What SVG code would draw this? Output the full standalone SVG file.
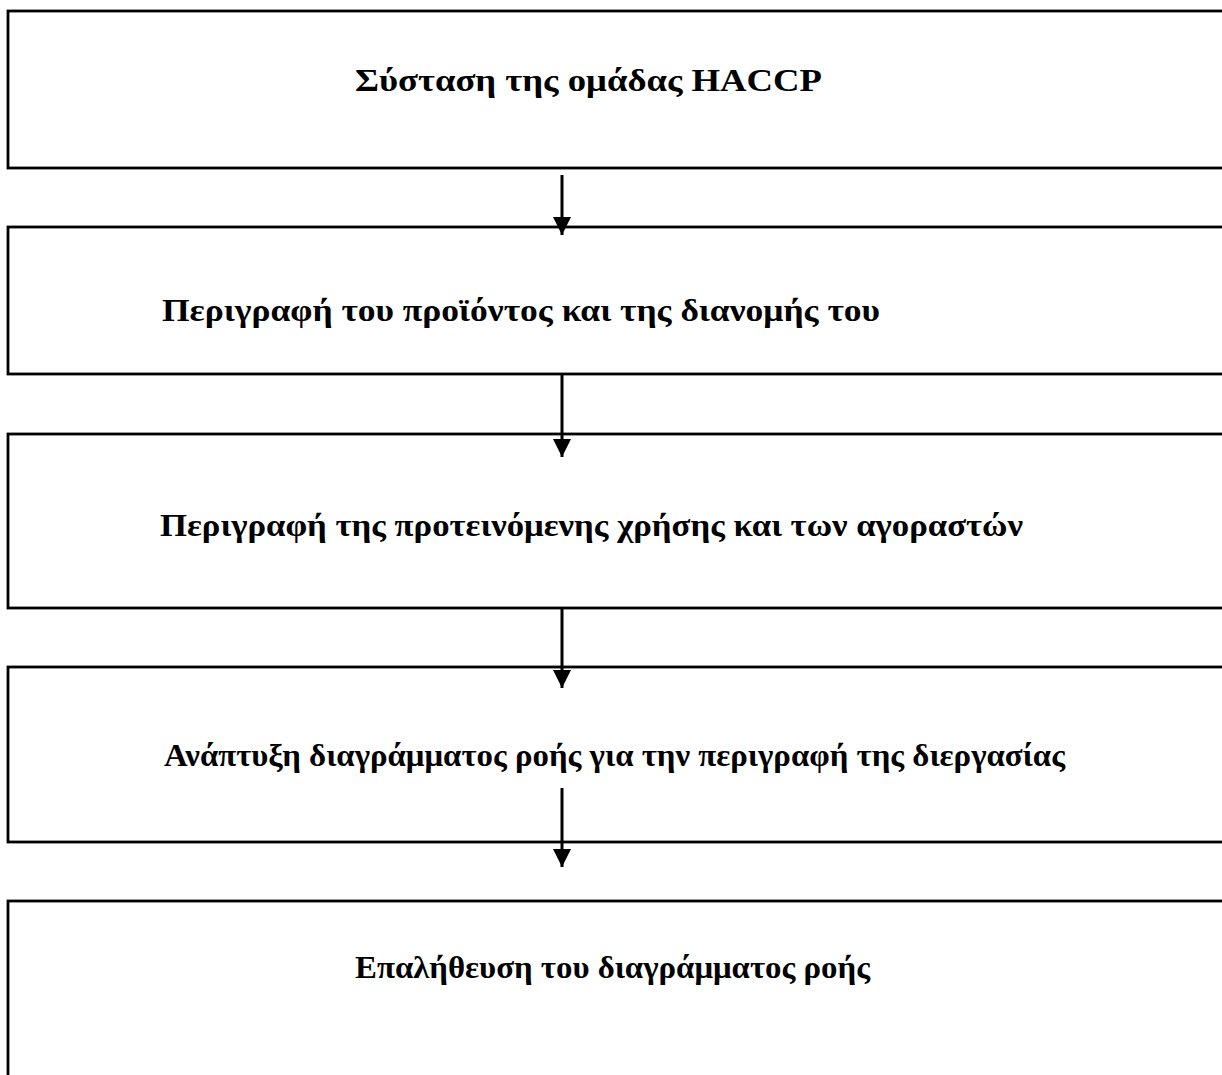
<svg xmlns="http://www.w3.org/2000/svg" width="1222" height="1075" viewBox="0 0 1222 1075">
<style>
.box{fill:#fff;stroke:#000;stroke-width:2.8}
.lbl{font-family:"Liberation Serif","Times New Roman",serif;font-weight:bold;font-size:32px;fill:#000}
.con{stroke:#000;stroke-width:3;fill:none}
</style>
<defs>
<marker id="ah" markerUnits="userSpaceOnUse" markerWidth="18" markerHeight="18" refX="18" refY="9" orient="auto" viewBox="0 0 18 18">
<path d="M0,0 L18,9 L0,18 z" fill="#000"/>
</marker>
</defs>
<rect width="1222" height="1075" fill="#fff"/>
<g id="n1"><rect class="box" x="8" y="11" width="1230" height="157"/>
<text class="lbl" x="355" y="91" textLength="467" lengthAdjust="spacingAndGlyphs">Σύσταση της ομάδας HACCP</text></g>
<g id="n2"><rect class="box" x="8" y="227" width="1230" height="147"/>
<text class="lbl" x="162" y="321" textLength="718" lengthAdjust="spacingAndGlyphs">Περιγραφή του προϊόντος και της διανομής του</text></g>
<g id="n3"><rect class="box" x="8" y="434" width="1230" height="174"/>
<text class="lbl" x="160" y="536" textLength="863" lengthAdjust="spacingAndGlyphs">Περιγραφή της προτεινόμενης χρήσης και των αγοραστών</text></g>
<g id="n4"><rect class="box" x="8" y="667" width="1230" height="175"/>
<text class="lbl" x="164" y="766" textLength="901" lengthAdjust="spacingAndGlyphs">Ανάπτυξη διαγράμματος ροής για την περιγραφή της διεργασίας</text></g>
<g id="n5"><rect class="box" x="8" y="901" width="1230" height="200"/>
<text class="lbl" x="355" y="978" textLength="515" lengthAdjust="spacingAndGlyphs">Επαλήθευση του διαγράμματος ροής</text></g>
<g id="connectors">
<line class="con" x1="562" y1="175" x2="562" y2="235" marker-end="url(#ah)"/>
<line class="con" x1="562" y1="375" x2="562" y2="457" marker-end="url(#ah)"/>
<line class="con" x1="562" y1="609" x2="562" y2="688" marker-end="url(#ah)"/>
<line class="con" x1="562" y1="788" x2="562" y2="867" marker-end="url(#ah)"/>
</g>
</svg>
